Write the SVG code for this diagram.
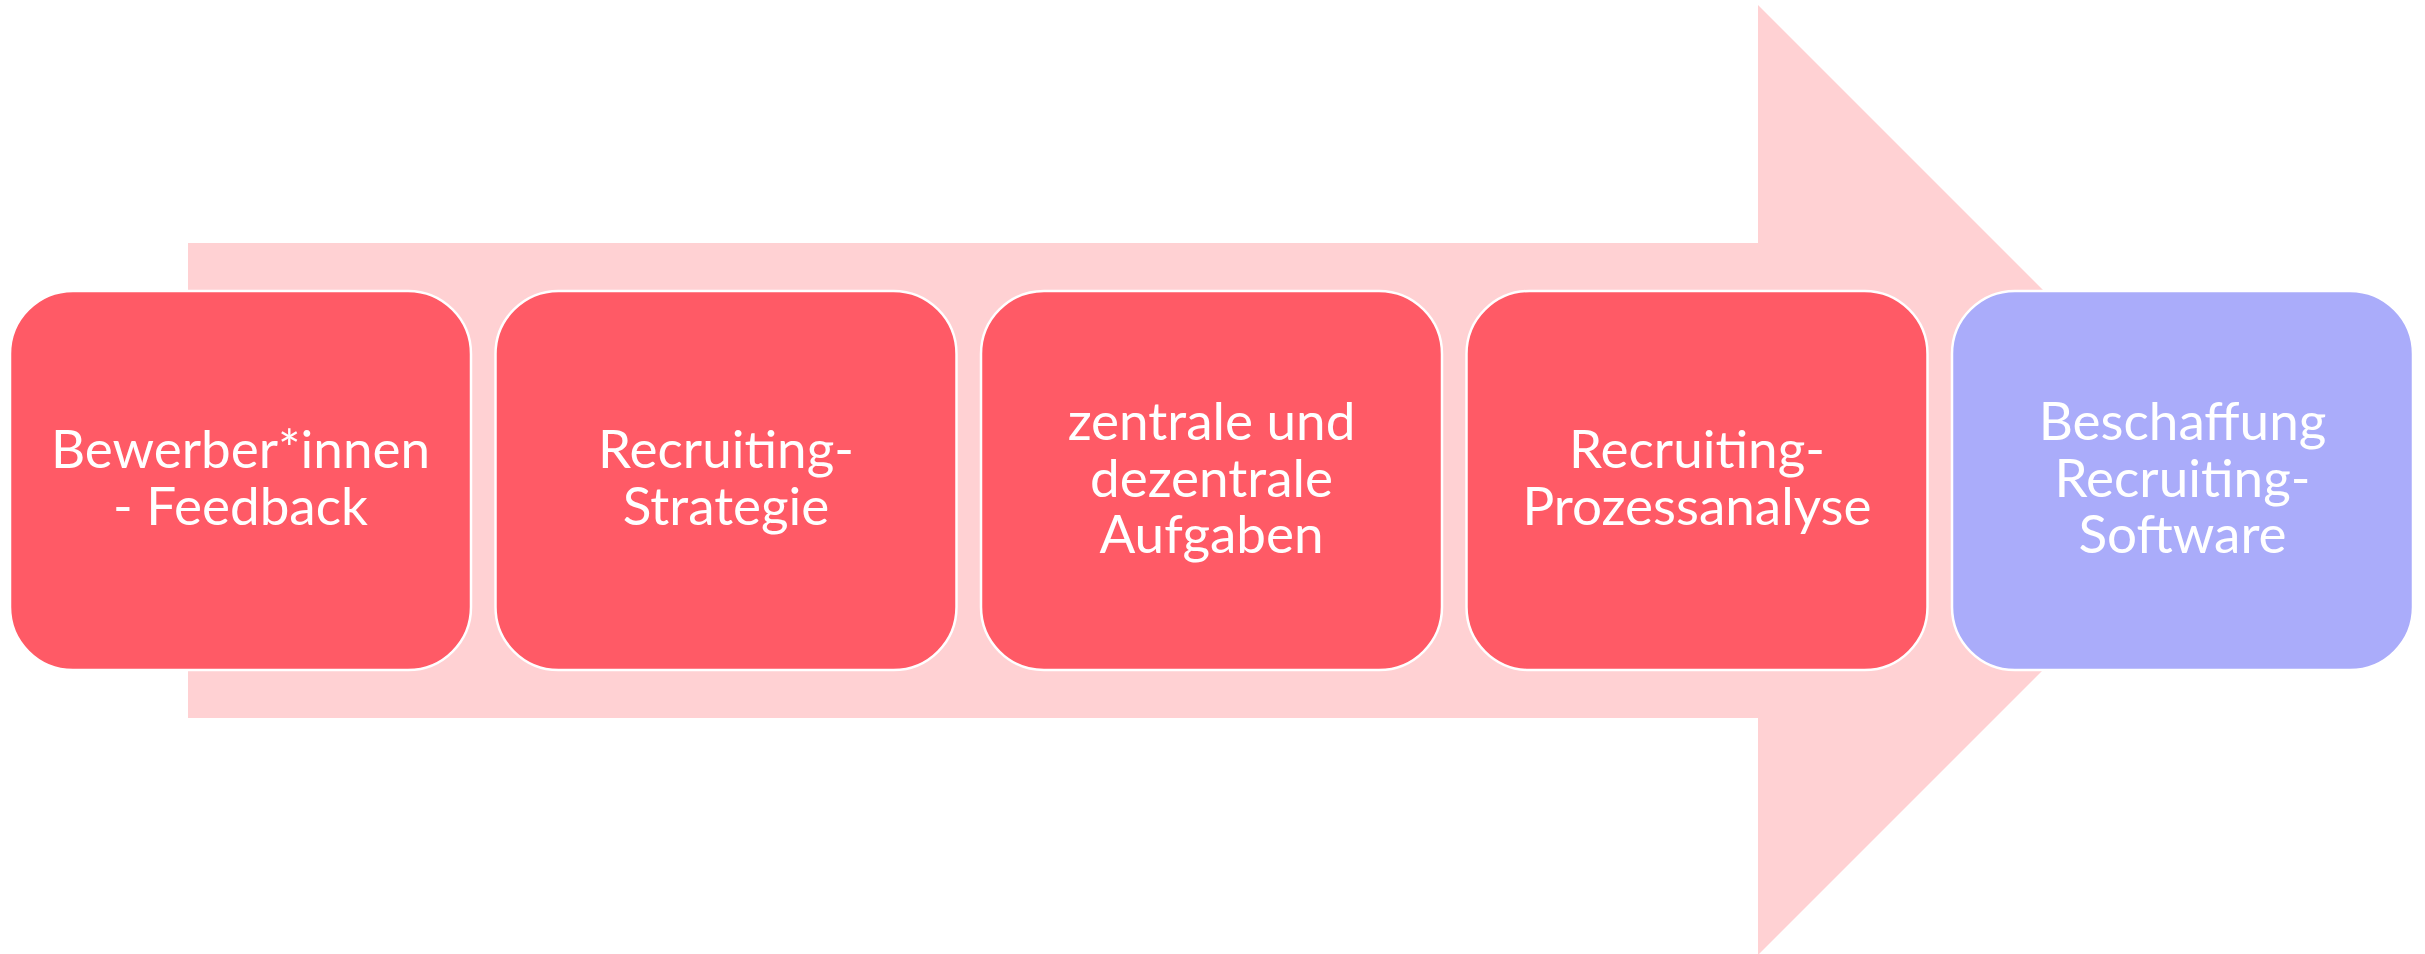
<svg xmlns="http://www.w3.org/2000/svg" width="2425" height="954" viewBox="0 0 2425 954">
<style>
.box{stroke:#ffffff;stroke-width:2.5}
.red{fill:#FF5A66}
.blue{fill:#AAACFA}
.t{font-family:Lato,"Open Sans",sans-serif;font-size:53px;fill:#ffffff;text-anchor:middle}
</style>
<rect width="2425" height="954" fill="#ffffff"/>
<g id="arrow">
<polygon points="188,243 1758,243 1758,5 2233,480 1758,955 1758,718 188,718" fill="#FFD1D3"/>
</g>
<g id="node1">
<rect class="box red" x="10" y="291" width="461" height="379" rx="63" ry="63"/>
<text class="t" x="240.5" y="468">Bewerber*innen</text>
<text class="t" x="240.5" y="525">- Feedback</text>
</g>
<g id="node2">
<rect class="box red" x="495.5" y="291" width="461" height="379" rx="63" ry="63"/>
<text class="t" x="726" y="468">Recruiting-</text>
<text class="t" x="726" y="525">Strategie</text>
</g>
<g id="node3">
<rect class="box red" x="981" y="291" width="461" height="379" rx="63" ry="63"/>
<text class="t" x="1211.5" y="440">zentrale und</text>
<text class="t" x="1211.5" y="497">dezentrale</text>
<text class="t" x="1211.5" y="553">Aufgaben</text>
</g>
<g id="node4">
<rect class="box red" x="1466.5" y="291" width="461" height="379" rx="63" ry="63"/>
<text class="t" x="1697" y="468">Recruiting-</text>
<text class="t" x="1697" y="525">Prozessanalyse</text>
</g>
<g id="node5">
<rect class="box blue" x="1952" y="291" width="461" height="379" rx="63" ry="63"/>
<text class="t" x="2182.5" y="440">Beschaffung</text>
<text class="t" x="2182.5" y="497">Recruiting-</text>
<text class="t" x="2182.5" y="553">Software</text>
</g>
<g id="connectors"></g>
</svg>
